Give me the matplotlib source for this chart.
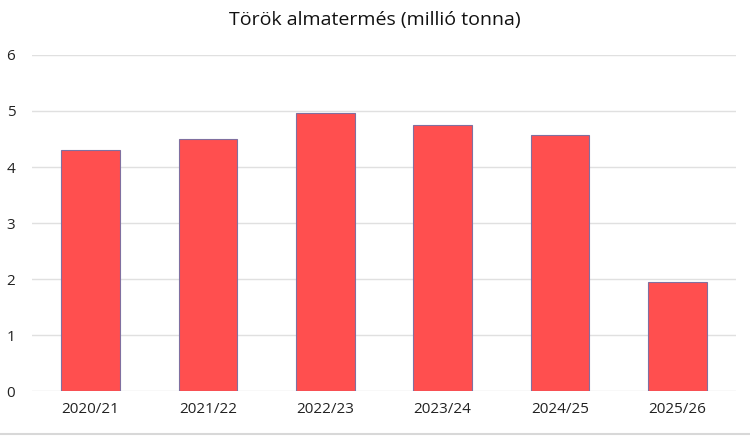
import matplotlib
matplotlib.use("Agg")
import matplotlib.pyplot as plt
from matplotlib.lines import Line2D

categories = ["2020/21", "2021/22", "2022/23", "2023/24", "2024/25", "2025/26"]
values = [4.3, 4.5, 4.97, 4.75, 4.58, 1.95]
yticks = [0, 1, 2, 3, 4, 5, 6]

plt.rcParams['font.family'] = ['Open Sans', 'DejaVu Sans']

fig = plt.figure(figsize=(7.5, 4.36), dpi=100)
ax = fig.add_axes([32/750, 1-391/436, (736-32)/750, (391-55)/436])

ax.bar(range(len(categories)), values, width=0.5, color='#FF4F4F',
       edgecolor='#8070A0', linewidth=0.8, zorder=3)
ax.set_xlim(-0.5, len(categories)-0.5)
ax.set_ylim(0, 6)
ax.set_yticks(yticks)
ax.set_xticks(range(len(categories)))
ax.set_xticklabels(categories)
ax.grid(axis='y', color='#E0E0E0', linewidth=1, zorder=0)
for s in ax.spines.values():
    s.set_visible(False)
ax.tick_params(length=0, labelsize=11, colors='#222222')
ax.tick_params(axis='x', pad=8)
ax.tick_params(axis='y', pad=12)

fig.text(0.5, 1-20/436, "Török almatermés (millió tonna)", ha='center', va='center',
         fontsize=14, color='#111111')
fig.add_artist(Line2D([0, 1], [1-434/436, 1-434/436], color='#D8D8D8', linewidth=1.5,
                      transform=fig.transFigure))

fig.savefig("out.png", dpi=100)
